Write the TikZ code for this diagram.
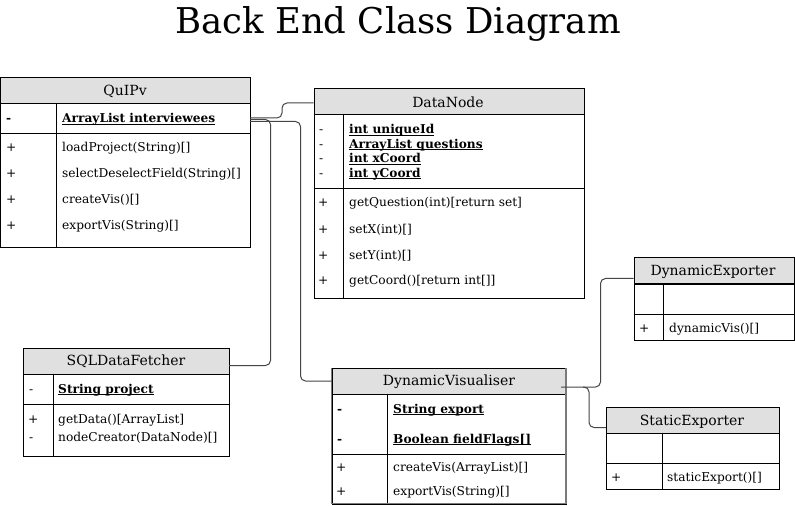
\documentclass[tikz,border=0pt]{standalone}
\usepackage{fontspec}
\setmainfont{DejaVu Serif}
\definecolor{hdrgray}{HTML}{E0E0E0}
\definecolor{linegray}{HTML}{454545}
\definecolor{framegray}{HTML}{7A7A7A}
\newlength\myulw
\newcommand\myul[1]{\settowidth\myulw{#1}\rlap{\rule[-1.7bp]{\myulw}{0.9bp}}#1}
\newcommand\bodyfnt{\fontsize{12.2bp}{14bp}\selectfont}
\newcommand\hdrfnt{\fontsize{14bp}{16bp}\selectfont}
\tikzset{
  hdr/.style={draw=black, line width=1bp, fill=hdrgray, inner sep=0pt, anchor=north west, font=\hdrfnt},
  htxt/.style={inner sep=0pt, font=\hdrfnt, yshift=-1.3bp},
  cell/.style={draw=black, line width=1bp, inner sep=0pt, anchor=north west},
  divider/.style={draw=black, line width=1bp},
  txt/.style={anchor=west, inner sep=0pt, text height=9bp, text depth=3bp, font=\bodyfnt, yshift=-1.8bp},
  btxt/.style={txt, font=\bodyfnt\bfseries},
  conn/.style={draw=linegray, line width=1bp, rounded corners=5bp},
}
\begin{document}
\begin{tikzpicture}[x=1bp,y=-1bp]
\useasboundingbox (0,0) rectangle (795,506);
\fill[white] (0,0) rectangle (795,506);

% title
\node[anchor=base, inner sep=0pt, font=\fontsize{35.5bp}{40bp}\selectfont] (title) at (398,34) {Back End Class Diagram};

% ---------- QuIPv ----------
\node[hdr, minimum width=249.5bp, minimum height=26bp] (Qh) at (0.5,77) {};
\node[htxt] (Qt) at (125,90.5) {QuIPv};
\node[cell, minimum width=249.5bp, minimum height=30bp] (Qa) at (0.5,103) {};
\node[cell, minimum width=249.5bp, minimum height=114bp] (Qm) at (0.5,133) {};
\draw[divider] (56.5,103) -- (56.5,247);
\node[btxt] (Qa1s) at (6,118) {-};
\node[btxt] (Qa1) at (62,118) {\myul{ArrayList interviewees}};
\node[txt] (Qm1s) at (6,147) {+};
\node[txt] (Qm1) at (62,147) {loadProject(String)[]};
\node[txt] (Qm2s) at (6,173) {+};
\node[txt] (Qm2) at (62,173) {selectDeselectField(String)[]};
\node[txt] (Qm3s) at (6,199) {+};
\node[txt] (Qm3) at (62,199) {createVis()[]};
\node[txt] (Qm4s) at (6,225) {+};
\node[txt] (Qm4) at (62,225) {exportVis(String)[]};

% ---------- DataNode ----------
\node[hdr, minimum width=270bp, minimum height=26bp] (Dh) at (313.5,88) {};
\node[htxt] (Dt) at (448,101) {DataNode};
\node[cell, minimum width=270bp, minimum height=74bp] (Da) at (313.5,114) {};
\node[cell, minimum width=270bp, minimum height=110bp] (Dm) at (313.5,188) {};
\draw[divider] (343.5,114) -- (343.5,298);
\node[txt] (Da1s) at (319,129) {-};
\node[btxt] (Da1) at (349,129) {\myul{int uniqueId}};
\node[txt] (Da2s) at (319,143.5) {-};
\node[btxt] (Da2) at (349,143.5) {\myul{ArrayList questions}};
\node[txt] (Da3s) at (319,158) {-};
\node[btxt] (Da3) at (349,158) {\myul{int xCoord}};
\node[txt] (Da4s) at (319,172.5) {-};
\node[btxt] (Da4) at (349,172.5) {\myul{int yCoord}};
\node[txt] (Dm1s) at (318,202) {+};
\node[txt] (Dm1) at (349,202) {getQuestion(int)[return set]};
\node[txt] (Dm2s) at (318,229) {+};
\node[txt] (Dm2) at (349,229) {setX(int)[]};
\node[txt] (Dm3s) at (318,255) {+};
\node[txt] (Dm3) at (349,255) {setY(int)[]};
\node[txt] (Dm4s) at (318,280) {+};
\node[txt] (Dm4) at (349,280) {getCoord()[return int[]]};

% ---------- SQLDataFetcher ----------
\node[hdr, minimum width=206.5bp, minimum height=26bp] (Sh) at (22.5,347.5) {};
\node[htxt] (St) at (126,360.5) {SQLDataFetcher};
\node[cell, minimum width=206.5bp, minimum height=30bp] (Sa) at (22.5,373.5) {};
\node[cell, minimum width=206.5bp, minimum height=52.5bp] (Sm) at (22.5,403.5) {};
\draw[divider] (53,373.5) -- (53,456);
\node[txt] (Sa1s) at (29,388.5) {-};
\node[btxt] (Sa1) at (58,388.5) {\myul{String project}};
\node[txt] (Sm1s) at (28,419) {+};
\node[txt] (Sm1) at (58,419) {getData()[ArrayList]};
\node[txt] (Sm2s) at (29,437) {-};
\node[txt] (Sm2) at (58,437) {nodeCreator(DataNode)[]};

% ---------- DynamicVisualiser ----------
\node[hdr, minimum width=234.5bp, minimum height=26bp] (Vh) at (331.5,367.5) {};
\node[htxt] (Vt) at (449,380.5) {DynamicVisualiser};
\node[cell, minimum width=234.5bp, minimum height=60bp] (Va) at (331.5,393.5) {};
\node[cell, minimum width=234.5bp, minimum height=50bp] (Vm) at (331.5,453.5) {};
\draw[divider] (387,393.5) -- (387,503.5);
\draw[draw=framegray, line width=1.6bp] (331.5,367.5) -- (331.5,503.5) -- (566,503.5) -- (566,367.5);
\node[btxt] (Va1s) at (337,408.5) {-};
\node[btxt] (Va1) at (393,408.5) {\myul{String export}};
\node[btxt] (Va2s) at (337,438.5) {-};
\node[btxt] (Va2) at (393,438.5) {\myul{Boolean fieldFlags[]}};
\node[txt] (Vm1s) at (336,467) {+};
\node[txt] (Vm1) at (393,467) {createVis(ArrayList)[]};
\node[txt] (Vm2s) at (336,491) {+};
\node[txt] (Vm2) at (393,491) {exportVis(String)[]};

% ---------- DynamicExporter ----------
\node[hdr, minimum width=160bp, minimum height=26bp] (Eh) at (633.5,257.5) {};
\node[htxt] (Et) at (713,271) {DynamicExporter};
\node[cell, minimum width=160bp, minimum height=30bp] (Ea) at (633.5,283.5) {};
\node[cell, minimum width=160bp, minimum height=26bp] (Em) at (633.5,313.5) {};
\draw[divider] (663.5,283.5) -- (663.5,339.5);
\node[txt] (Em1s) at (639,328) {+};
\node[txt] (Em1) at (669,328) {dynamicVis()[]};

% ---------- StaticExporter ----------
\node[hdr, minimum width=172.5bp, minimum height=26bp] (Th) at (606,406.5) {};
\node[htxt] (Tt) at (692,420) {StaticExporter};
\node[cell, minimum width=172.5bp, minimum height=30bp] (Ta) at (606,432.5) {};
\node[cell, minimum width=172.5bp, minimum height=26bp] (Tm) at (606,462.5) {};
\draw[divider] (662,432.5) -- (662,488.5);
\node[txt] (Tm1s) at (611,477) {+};
\node[txt] (Tm1) at (667,477) {staticExport()[]};

% ---------- connectors ----------
\coordinate (q1) at (250,118);
\coordinate (q2) at (250,119.5);
\coordinate (q3) at (250,121.5);
\coordinate (dIn) at (313.5,103);
\coordinate (sIn) at (229,365.5);
\coordinate (vIn) at (331.5,381);
\coordinate (vOut) at (561,387);
\coordinate (vSplit) at (583,387);
\coordinate (eIn) at (633.5,278.5);
\coordinate (tIn) at (606,427.5);

\draw[conn] (q1) -| (282,103) -- (dIn);
\draw[conn] (q2) -- (270.5,119.5) -- (270.5,365.5) -- (sIn);
\draw[conn] (q3) -- (300.5,121.5) -- (300.5,381) -- (vIn);
\draw[conn] (vOut) -- (600.5,387) -- (600.5,278.5) -- (eIn);
\draw[conn] (vSplit) -- (589,387) -- (589,427.5) -- (tIn);
\end{tikzpicture}
\end{document}
